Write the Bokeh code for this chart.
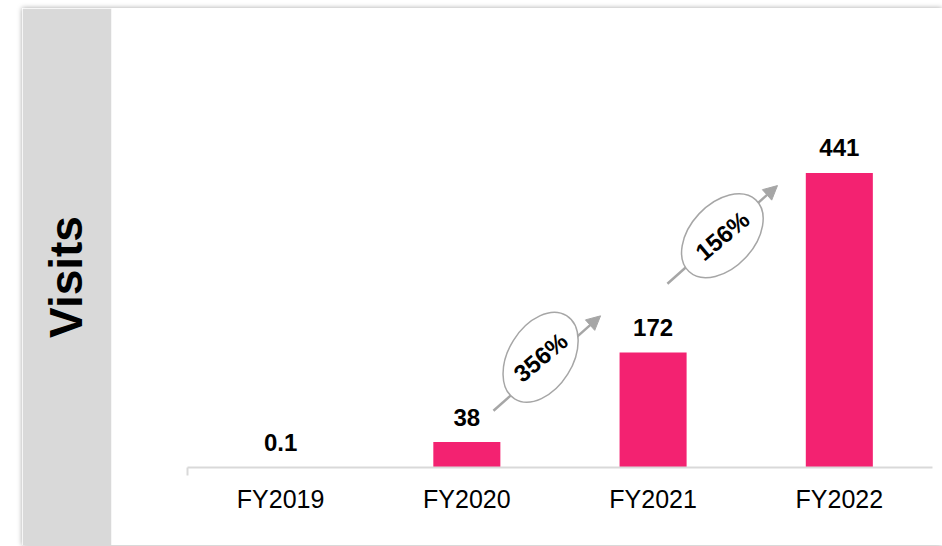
from bokeh.plotting import figure
from bokeh.models import (Range1d, LinearAxis, FixedTicker, Arrow, NormalHead,
                          ColumnDataSource, Spacer)
from bokeh.layouts import row, column
from bokeh.core.properties import value
from bokeh.embed import file_html
from bokeh.resources import INLINE

# ---- data ----
categories = ["FY2019", "FY2020", "FY2021", "FY2022"]
visits = [0.1, 38, 172, 441]
growth_labels = ["356%", "156%"]      # growth FY2020->FY2021, FY2021->FY2022
growth_from = [1, 2]                  # index of the starting category

# ---- style / layout constants ----
BAR_COLOR = "#F32271"
GREY = "#A6A6A6"
BAND = "#D9D9D9"
FONT = "Liberation Sans"
BAR_WIDTH = 0.36
# growth-annotation geometry, relative to the starting category index (x) and in data units (y)
ARROW_DX = [(0.143, 0.718), (0.077, 0.668)]
ARROW_Y = [(85, 227), (275, 422)]
ELL_DX = [0.396, 0.372]
ELL_Y = [165, 347]
ELL_ANGLE = [58, 47]

idx = list(range(len(categories)))
src = ColumnDataSource(dict(x=idx, top=visits, label=[f"{v:g}" for v in visits]))

p = figure(width=920, height=537, output_backend="svg", toolbar_location=None,
           x_range=Range1d(-0.908, 3.554), y_range=Range1d(-116.8, 687.1),
           x_axis_type=None, y_axis_type=None,
           min_border_left=89, min_border_right=0, min_border_top=0, min_border_bottom=0,
           background_fill_color="white", border_fill_color=BAND,
           outline_line_color=None,
           styles={"box-shadow": "0px 0px 5px rgba(0,0,0,0.35)"})

# bars
p.vbar(x="x", top="top", width=BAR_WIDTH, bottom=0, source=src,
       fill_color=BAR_COLOR, line_color=None)

# value labels
p.text(x="x", y="top", text="label", source=src, y_offset=-25,
       text_align="center", text_baseline="alphabetic",
       text_font=value(FONT), text_font_style="bold", text_font_size="24px",
       text_color="black")

# category axis (placed at y=0 inside the frame)
xaxis = LinearAxis(fixed_location=0, bounds=(-0.5, len(categories) - 0.5),
                   ticker=FixedTicker(ticks=idx, minor_ticks=[-0.5]),
                   major_label_overrides={i: c for i, c in enumerate(categories)},
                   axis_line_color=BAND, axis_line_width=2,
                   major_tick_line_color=None,
                   minor_tick_line_color=BAND, minor_tick_line_width=2,
                   minor_tick_in=0, minor_tick_out=8,
                   major_tick_in=0, major_tick_out=0,
                   major_label_standoff=10,
                   major_label_text_font=FONT, major_label_text_font_size="25px",
                   major_label_text_color="black")
p.add_layout(xaxis, "below")

# left band with "Visits"
yaxis = LinearAxis(ticker=FixedTicker(ticks=[]), axis_label="Visits",
                   axis_line_color=None, major_tick_line_color=None,
                   minor_tick_line_color=None, major_tick_out=0, minor_tick_out=0,
                   major_label_text_font_size="0px", major_label_standoff=0,
                   axis_label_text_font=FONT, axis_label_text_font_style="bold",
                   axis_label_text_font_size="46px", axis_label_text_color="black",
                   axis_label_standoff=20)
p.add_layout(yaxis, "left")

# growth annotations
for k, lab in enumerate(growth_labels):
    i0 = growth_from[k]
    arr = Arrow(end=NormalHead(size=14, fill_color=GREY, line_color=GREY),
                x_start=i0 + ARROW_DX[k][0], y_start=ARROW_Y[k][0],
                x_end=i0 + ARROW_DX[k][1], y_end=ARROW_Y[k][1],
                line_color=GREY, line_width=2.5, level="glyph")
    p.add_layout(arr)
    r = p.ellipse(x=[i0 + ELL_DX[k]], y=[ELL_Y[k]], width=[98], height=[64],
                  width_units="screen", height_units="screen",
                  angle=[ELL_ANGLE[k]], angle_units="deg",
                  fill_color="white", line_color=GREY, line_width=1.5)
    r.level = "overlay"
    t = p.text(x=[i0 + ELL_DX[k]], y=[ELL_Y[k]], text=[lab], angle=[40], angle_units="deg",
               text_align="center", text_baseline="middle",
               text_font=value(FONT), text_font_style="bold", text_font_size="24px",
               text_color="black")
    t.level = "overlay"

layout = column(Spacer(width=942, height=8), row(Spacer(width=22, height=537), p))
open("out.html", "w").write(file_html(layout, INLINE))
